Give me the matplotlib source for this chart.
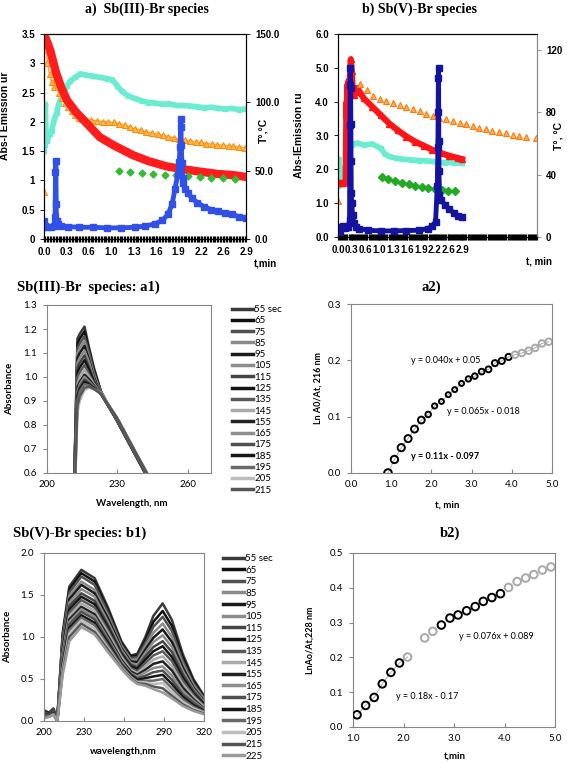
import numpy as np
import matplotlib
matplotlib.use("Agg")
import matplotlib.pyplot as plt
from matplotlib.lines import Line2D
from matplotlib.ticker import FuncFormatter

W, H = 567, 764

# ---------------- panel a) Sb(III)-Br species ----------------
a_ticklabels = ['0.0', '0.3', '0.6', '1.0', '1.3', '1.6', '1.9', '2.2', '2.6', '2.9']

a_red_t = [0.0, 0.05, 0.09, 0.17, 0.25, 0.33, 0.45, 0.57, 0.8, 1.0, 1.28, 1.5, 1.76, 2.0, 2.24, 2.5, 2.72, 2.9]
a_red = [3.5, 3.35, 3.22, 2.85, 2.58, 2.37, 2.18, 2.03, 1.74, 1.6, 1.43, 1.33, 1.24, 1.19, 1.15, 1.11, 1.09, 1.06]

a_orange_t = [0.0, 0.01, 0.03, 0.05, 0.08, 0.11, 0.14, 0.17, 0.19, 0.22, 0.26, 0.30, 0.35, 0.40, 0.45,
              0.50, 0.55, 0.60, 0.68, 0.76, 0.84, 0.92, 1.0,
              1.08, 1.16, 1.24, 1.31, 1.39, 1.47, 1.55, 1.63, 1.71, 1.78, 1.86, 1.94, 2.02, 2.10,
              2.18, 2.25, 2.33, 2.41, 2.49, 2.57, 2.65, 2.72, 2.80, 2.88]
a_orange = [0.8, 3.5, 3.25, 3.0, 2.82, 2.68, 2.6, 2.92, 2.6, 2.5, 2.4, 2.33, 2.25, 2.18, 2.12,
            2.07, 2.05, 2.04, 2.03, 2.02, 2.0, 2.0, 1.99,
            1.97, 1.94, 1.91, 1.88, 1.86, 1.83, 1.81, 1.79, 1.77, 1.75, 1.73, 1.71, 1.69, 1.68,
            1.66, 1.65, 1.63, 1.62, 1.61, 1.60, 1.59, 1.58, 1.57, 1.56]

a_cyan_t = [0.0, 0.01, 0.02, 0.03, 0.05, 0.08, 0.11, 0.15, 0.18, 0.21, 0.25, 0.29, 0.33, 0.38, 0.45,
            0.52, 0.6, 0.7, 0.8, 0.9, 0.98, 1.05, 1.12, 1.2, 1.3, 1.4, 1.5, 1.6, 1.7, 1.8, 1.9,
            2.0, 2.1, 2.2, 2.3, 2.4, 2.5, 2.6, 2.7, 2.8, 2.9]
a_cyan = [1.5, 1.6, 2.3, 1.75, 1.68, 1.8, 1.85, 2.05, 2.15, 2.3, 2.42, 2.5, 2.62, 2.7, 2.76,
          2.82, 2.8, 2.78, 2.76, 2.74, 2.72, 2.62, 2.52, 2.45, 2.4, 2.36, 2.33, 2.32, 2.3, 2.31, 2.28,
          2.28, 2.27, 2.26, 2.24, 2.25, 2.23, 2.22, 2.23, 2.21, 2.22]

a_blue_t = [0.0, 0.02, 0.05, 0.1, 0.14, 0.16, 0.165, 0.17, 0.175, 0.18, 0.2, 0.25, 0.35, 0.5, 0.7,
            0.9, 1.1, 1.3, 1.45, 1.6, 1.7, 1.78, 1.84, 1.88, 1.92, 1.94, 1.955, 1.96, 1.965, 1.97,
            1.98, 1.99, 2.0, 2.03, 2.07, 2.12, 2.2, 2.3, 2.4, 2.5, 2.6, 2.7, 2.8, 2.9]
a_blue = [0.3, 0.22, 0.2, 0.2, 0.22, 0.37, 1.15, 1.33, 0.6, 0.3, 0.25, 0.22, 0.21, 0.2, 0.2,
          0.19, 0.19, 0.2, 0.22, 0.26, 0.32, 0.42, 0.6, 0.85, 1.1, 1.32, 1.57, 1.91, 2.05, 1.6,
          1.3, 1.05, 0.95, 0.85, 0.78, 0.7, 0.62, 0.55, 0.5, 0.47, 0.44, 0.42, 0.38, 0.36]

a_green_t = [1.07, 1.24, 1.40, 1.57, 1.74, 1.90, 2.07, 2.24, 2.40, 2.57, 2.74]
a_green = [1.16, 1.15, 1.13, 1.11, 1.10, 1.09, 1.08, 1.06, 1.05, 1.04, 1.03]

# ---------------- panel b) Sb(V)-Br species ----------------
b_blue_t = [0.0, 0.04, 0.08, 0.12, 0.16, 0.2, 0.24, 0.27, 0.28, 0.285, 0.29, 0.295, 0.30, 0.305,
            0.31, 0.32, 0.34, 0.37, 0.42, 0.5, 0.7, 1.0, 1.3, 1.6, 1.9, 2.1, 2.2, 2.28, 2.32,
            2.335, 2.34, 2.345, 2.35, 2.355, 2.36, 2.37, 2.4, 2.5, 2.6, 2.7, 2.8, 2.9]
b_blue = [0.18, 0.15, 0.3, 0.32, 0.28, 0.3, 0.3, 0.5, 3.3, 4.5, 5.0, 4.4, 3.35, 2.25,
          1.3, 1.0, 0.65, 0.4, 0.3, 0.25, 0.2, 0.18, 0.18, 0.19, 0.2, 0.25, 0.32, 0.45, 1.5,
          2.65, 3.7, 4.7, 5.0, 2.85, 1.95, 1.25, 1.1, 0.95, 0.82, 0.72, 0.62, 0.58]

b_cyan_t = [0.0, 0.02, 0.04, 0.07, 0.1, 0.14, 0.18, 0.22, 0.26, 0.3, 0.35, 0.45, 0.6, 0.8, 1.0,
            1.1, 1.2, 1.35, 1.5, 1.7, 1.9, 2.1, 2.3, 2.5, 2.7, 2.9]
b_cyan = [1.5, 2.3, 1.7, 1.85, 2.0, 2.05, 2.1, 2.3, 2.6, 2.7, 2.75, 2.78, 2.72, 2.75, 2.62,
          2.45, 2.38, 2.33, 2.3, 2.28, 2.26, 2.25, 2.22, 2.2, 2.2, 2.18]

b_red_t = [0.0, 0.06, 0.12, 0.18, 0.19, 0.2, 0.21, 0.22, 0.23, 0.24, 0.25, 0.26, 0.28, 0.3, 0.32,
           0.34, 0.37, 0.4, 0.45, 0.5, 0.6, 0.8, 1.0, 1.2, 1.4, 1.6, 1.8, 2.0, 2.2, 2.4, 2.6,
           2.8, 2.9]
b_red = [1.6, 1.6, 1.6, 1.62, 3.0, 4.0, 3.5, 4.5, 3.7, 4.6, 3.6, 4.1, 4.8, 5.25, 4.9,
         4.4, 4.2, 4.4, 4.4, 4.3, 4.1, 3.85, 3.6, 3.35, 3.15, 2.97, 2.82, 2.7, 2.58, 2.48, 2.4,
         2.33, 2.3]

b_orange_t = [0.0, 0.51, 0.67, 0.82, 0.98, 1.13, 1.29, 1.44, 1.60, 1.75, 1.91, 2.06, 2.22, 2.37,
              2.53, 2.68, 2.84, 2.99, 3.15, 3.30, 3.46, 3.61, 3.77, 3.92, 4.08, 4.23, 4.39, 4.63]
b_orange = [1.05, 4.52, 4.34, 4.17, 4.09, 4.02, 3.96, 3.91, 3.85, 3.78, 3.72, 3.65, 3.58, 3.53,
            3.48, 3.43, 3.38, 3.33, 3.28, 3.23, 3.18, 3.13, 3.09, 3.06, 3.02, 2.98, 2.96, 2.94]

b_green_t = [1.02, 1.18, 1.33, 1.49, 1.65, 1.80, 1.96, 2.11, 2.27, 2.43, 2.58, 2.74]
b_green = [1.78, 1.71, 1.66, 1.60, 1.56, 1.52, 1.48, 1.45, 1.42, 1.39, 1.36, 1.35]

# ---------------- a1) spectra ----------------
a1_labels = ['55 sec', '65', '75', '85', '95', '105', '115', '125', '135', '145', '155',
             '165', '175', '185', '195', '205', '215']
a1_wl = [211, 213, 214, 216, 218, 220, 223, 230, 238, 246]
a1_abs = [
    [0.30, 1.16, 1.18, 1.21, 1.12, 1.04, 0.94, 0.815, 0.670, 0.525],
    [0.30, 1.14, 1.16, 1.19, 1.11, 1.03, 0.94, 0.815, 0.670, 0.525],
    [0.30, 1.12, 1.14, 1.17, 1.10, 1.02, 0.935, 0.815, 0.670, 0.525],
    [0.30, 1.10, 1.12, 1.15, 1.08, 1.01, 0.935, 0.817, 0.672, 0.527],
    [0.30, 1.08, 1.10, 1.13, 1.07, 1.00, 0.93, 0.817, 0.672, 0.527],
    [0.30, 1.06, 1.08, 1.11, 1.06, 0.99, 0.93, 0.818, 0.673, 0.528],
    [0.30, 1.04, 1.06, 1.09, 1.04, 0.985, 0.93, 0.818, 0.673, 0.528],
    [0.30, 1.02, 1.04, 1.07, 1.03, 0.98, 0.93, 0.82, 0.675, 0.53],
    [0.30, 1.00, 1.02, 1.05, 1.01, 0.975, 0.93, 0.82, 0.675, 0.53],
    [0.28, 0.97, 1.00, 1.03, 1.00, 0.97, 0.93, 0.822, 0.677, 0.532],
    [0.28, 0.96, 0.98, 1.01, 0.99, 0.965, 0.93, 0.822, 0.677, 0.532],
    [0.28, 0.94, 0.97, 1.00, 0.98, 0.96, 0.93, 0.825, 0.68, 0.535],
    [0.28, 0.93, 0.96, 0.99, 0.975, 0.955, 0.93, 0.825, 0.68, 0.535],
    [0.28, 0.92, 0.95, 0.98, 0.97, 0.955, 0.93, 0.827, 0.682, 0.537],
    [0.26, 0.90, 0.94, 0.97, 0.965, 0.95, 0.93, 0.827, 0.682, 0.537],
    [0.24, 0.85, 0.90, 0.945, 0.955, 0.95, 0.935, 0.83, 0.685, 0.545],
    [0.26, 0.88, 0.92, 0.955, 0.96, 0.95, 0.932, 0.828, 0.683, 0.54],
]
a1_colors = ['#3a3a3a', '#111111', '#505050', '#8a8a8a', '#1a1a1a', '#8c8c8c', '#454545',
             '#151515', '#5a5a5a', '#aaaaaa', '#222222', '#8e8e8e', '#505050', '#161616',
             '#6a6a6a', '#bdbdbd', '#555555']

# ---------------- b1) spectra ----------------
b1_labels = a1_labels + ['225']
b1_wl = [200, 204, 207, 210, 214, 219, 228, 238, 248, 258, 265, 270, 276, 282, 289, 296, 304, 312, 320]
b1_abs = [
    [0.12, 0.10, 0.15, 0.03, 1.05, 1.60, 1.80, 1.70, 1.35, 0.95, 0.78, 0.80, 1.00, 1.25, 1.40, 1.20, 0.80, 0.50, 0.30],
    [0.11, 0.10, 0.14, 0.03, 1.02, 1.57, 1.76, 1.66, 1.32, 0.93, 0.77, 0.78, 0.96, 1.18, 1.31, 1.13, 0.76, 0.48, 0.28],
    [0.13, 0.09, 0.14, 0.03, 0.99, 1.53, 1.72, 1.62, 1.29, 0.91, 0.75, 0.76, 0.93, 1.12, 1.24, 1.07, 0.72, 0.45, 0.27],
    [0.10, 0.09, 0.13, 0.02, 0.96, 1.49, 1.66, 1.56, 1.25, 0.89, 0.73, 0.73, 0.89, 1.05, 1.16, 1.00, 0.68, 0.43, 0.26],
    [0.12, 0.09, 0.13, 0.02, 0.94, 1.45, 1.62, 1.52, 1.22, 0.87, 0.71, 0.70, 0.85, 0.99, 1.09, 0.94, 0.64, 0.40, 0.24],
    [0.09, 0.08, 0.12, 0.02, 0.91, 1.41, 1.57, 1.48, 1.18, 0.85, 0.69, 0.67, 0.81, 0.94, 1.02, 0.88, 0.60, 0.38, 0.23],
    [0.11, 0.08, 0.12, 0.02, 0.88, 1.37, 1.52, 1.43, 1.14, 0.82, 0.67, 0.64, 0.77, 0.88, 0.95, 0.82, 0.56, 0.36, 0.21],
    [0.08, 0.08, 0.11, 0.02, 0.85, 1.33, 1.48, 1.39, 1.11, 0.80, 0.65, 0.62, 0.73, 0.83, 0.89, 0.76, 0.52, 0.33, 0.20],
    [0.10, 0.07, 0.11, 0.01, 0.82, 1.29, 1.44, 1.35, 1.08, 0.78, 0.63, 0.59, 0.69, 0.78, 0.83, 0.71, 0.48, 0.31, 0.18],
    [0.07, 0.07, 0.10, 0.01, 0.79, 1.25, 1.40, 1.31, 1.05, 0.76, 0.61, 0.57, 0.65, 0.73, 0.77, 0.65, 0.44, 0.29, 0.17],
    [0.09, 0.07, 0.10, 0.01, 0.76, 1.21, 1.36, 1.27, 1.01, 0.73, 0.59, 0.55, 0.61, 0.68, 0.71, 0.60, 0.40, 0.26, 0.15],
    [0.06, 0.06, 0.09, 0.01, 0.73, 1.18, 1.33, 1.24, 0.98, 0.71, 0.57, 0.53, 0.58, 0.63, 0.65, 0.54, 0.36, 0.24, 0.14],
    [0.08, 0.06, 0.09, 0.01, 0.70, 1.15, 1.30, 1.21, 0.96, 0.69, 0.56, 0.51, 0.54, 0.58, 0.60, 0.49, 0.32, 0.22, 0.13],
    [0.05, 0.06, 0.09, 0.00, 0.67, 1.11, 1.26, 1.17, 0.93, 0.67, 0.55, 0.49, 0.51, 0.53, 0.55, 0.44, 0.29, 0.19, 0.12],
    [0.06, 0.06, 0.08, 0.00, 0.64, 1.08, 1.23, 1.14, 0.90, 0.66, 0.53, 0.47, 0.48, 0.48, 0.50, 0.39, 0.26, 0.17, 0.11],
    [0.04, 0.05, 0.08, 0.00, 0.61, 1.04, 1.20, 1.10, 0.87, 0.64, 0.52, 0.46, 0.46, 0.44, 0.45, 0.34, 0.23, 0.15, 0.10],
    [0.05, 0.05, 0.08, 0.00, 0.58, 1.00, 1.16, 1.06, 0.85, 0.63, 0.51, 0.45, 0.44, 0.41, 0.39, 0.30, 0.20, 0.13, 0.09],
    [0.03, 0.05, 0.08, 0.00, 0.55, 0.95, 1.12, 1.03, 0.82, 0.62, 0.50, 0.44, 0.42, 0.38, 0.34, 0.27, 0.18, 0.12, 0.08],
]
b1_colors = a1_colors + ['#9a9a9a']

# ---------------- a2) / b2) kinetics ----------------
a2_t = [0.92, 1.08, 1.25, 1.42, 1.58, 1.75, 1.92, 2.08, 2.25, 2.42, 2.58, 2.75, 2.92, 3.08, 3.25,
        3.42, 3.58, 3.75, 3.92, 4.08, 4.25, 4.42, 4.58, 4.75, 4.92]
a2_ln = [0.000, 0.024, 0.045, 0.061, 0.078, 0.094, 0.104, 0.119, 0.127, 0.139, 0.148, 0.159, 0.167,
         0.172, 0.180, 0.184, 0.195, 0.199, 0.206, 0.210, 0.213, 0.217, 0.222, 0.230, 0.233]
a2_used = [1] * 19 + [0] * 6
a2_size = [30, 28, 27, 26, 25, 24, 16, 14, 13, 13, 13, 13, 15, 16, 17, 18, 19, 20, 20, 22, 22, 22, 22, 22, 22]

b2_t = [1.08, 1.25, 1.42, 1.58, 1.75, 1.92, 2.08, 2.42, 2.58, 2.75, 2.92, 3.08, 3.25, 3.42, 3.58,
        3.75, 3.92, 4.08, 4.25, 4.42, 4.58, 4.75, 4.92]
b2_ln = [0.035, 0.062, 0.085, 0.124, 0.157, 0.184, 0.201, 0.256, 0.275, 0.293, 0.313, 0.322, 0.334,
         0.346, 0.361, 0.372, 0.383, 0.401, 0.418, 0.428, 0.438, 0.451, 0.460]
b2_used = [1, 1, 1, 1, 1, 1, 0, 0, 0, 1, 1, 1, 1, 1, 1, 1, 1, 0, 0, 0, 0, 0, 0]


def box(l, t, r, b):
    return [l / W, 1 - b / H, (r - l) / W, (b - t) / H]


def fx(x):
    return x / W


def fy(y):
    return 1 - y / H


ARIAL = 'Liberation Sans'
SERIF = 'Liberation Serif'
CALI = 'Lato'

fig = plt.figure(figsize=(W / 100, H / 100), dpi=100)
fig.patch.set_facecolor('white')

# ===== panel a =====
ax = fig.add_axes(box(44, 34, 246, 239))
ax.plot(a_cyan_t, a_cyan, color='#6aecd0', lw=4, marker='s', ms=3.5, zorder=2)
ax.plot(a_orange_t, a_orange, color='#ff9d2a', lw=1.0, marker='^', ms=4.5,
        mfc='#ffc04a', mec='#ff8c10', mew=0.8, zorder=3)
ax.plot(a_red_t, a_red, color='#ff1c1c', lw=6, solid_capstyle='round', zorder=4)
ax.plot(a_green_t, a_green, ls='none', marker='D', ms=3.5, color='#33bb33', zorder=4)
ax.plot(a_blue_t, a_blue, color='#3050e8', lw=3.5, marker='s', ms=4, zorder=5)
ax.set_xlim(0, 2.9)
ax.set_ylim(0, 3.5)
ax.set_xticks(np.linspace(0, 2.9, 10))
ax.set_xticklabels(a_ticklabels)
ax.set_xticks(np.linspace(0, 2.9, 140), minor=True)
ax.set_yticks(np.arange(0, 3.51, 0.5))
ax.yaxis.set_major_formatter(FuncFormatter(lambda v, p: '%g' % v))
ax.tick_params(axis='x', which='both', direction='inout', length=4, width=0.9, pad=4)
ax.tick_params(axis='y', direction='out', length=3, width=0.6)
for lab in ax.get_xticklabels() + ax.get_yticklabels():
    lab.set_fontfamily(ARIAL)
    lab.set_fontweight('bold')
    lab.set_fontsize(7)
ax.set_ylabel('Abs-I Emission ur', family=ARIAL, weight='bold', fontsize=7.5)
ax.yaxis.set_label_coords(-0.17, 0.6)
axr = ax.twinx()
axr.set_ylim(0, 150)
axr.set_yticks([0, 50, 100, 150])
axr.set_yticklabels(['0.0', '50.0', '100.0', '150.0'], family=ARIAL, weight='bold', fontsize=7)
axr.tick_params(axis='y', direction='out', length=3, width=0.6)
axr.set_ylabel('T°,°C', family=ARIAL, weight='bold', fontsize=7.5)
axr.yaxis.set_label_coords(1.06, 0.53)
fig.text(fx(147), fy(9), 'a)  Sb(III)-Br species', family=SERIF, weight='bold', fontsize=10,
         ha='center', va='center')
fig.text(fx(265), fy(263), 't,min', family=ARIAL, weight='bold', fontsize=7, ha='center', va='center')

# ===== panel b =====
bx = fig.add_axes(box(338, 34, 537, 237))
bx.plot(b_cyan_t, b_cyan, color='#6aecd0', lw=4, marker='s', ms=3, zorder=2)
bx.plot(b_red_t, b_red, color='#ff1515', lw=4.5, marker='^', ms=4.5, zorder=3)
bx.plot(b_orange_t, b_orange, ls='none', marker='^', ms=4.5, mfc='#ffb050', mec='#ff7a10',
        mew=0.8, zorder=4)
bx.plot(b_green_t, b_green, ls='none', marker='D', ms=4.5, color='#22aa22', zorder=4)
bx.plot(b_blue_t, b_blue, color='#1414a0', lw=3.5, marker='s', ms=4, zorder=5)
bx.set_xlim(0, 4.65)
bx.set_ylim(0, 6)
bx.set_xticks(np.linspace(0, 2.9, 10))
bx.set_xticklabels(a_ticklabels)
bx.set_xticks(np.linspace(0, 4.65, 190), minor=True)
bx.set_yticks(np.arange(0, 6.01, 1.0))
bx.yaxis.set_major_formatter(FuncFormatter(lambda v, p: '%.1f' % v))
bx.tick_params(axis='x', which='both', direction='inout', length=4, width=0.9, pad=4)
bx.tick_params(axis='y', direction='out', length=3, width=0.6)
for lab in bx.get_xticklabels() + bx.get_yticklabels():
    lab.set_fontfamily(ARIAL)
    lab.set_fontweight('bold')
    lab.set_fontsize(7)
bx.set_ylabel('Abs-IEmission ru', family=ARIAL, weight='bold', fontsize=7.5)
bx.yaxis.set_label_coords(-0.17, 0.5)
bx.spines['right'].set_color('#888888')
bxr = bx.twinx()
bxr.set_ylim(0, 130)
bxr.set_yticks([0, 40, 80, 120])
bxr.set_yticklabels(['0', '40', '80', '120'], family=ARIAL, weight='bold', fontsize=7)
bxr.spines['right'].set_color('#888888')
bxr.tick_params(axis='y', direction='out', length=3, width=0.6, color='#888888')
bxr.set_ylabel('T°, °C', family=ARIAL, weight='bold', fontsize=7.5)
bxr.yaxis.set_label_coords(1.085, 0.5)
fig.text(fx(420), fy(9), 'b) Sb(V)-Br species', family=SERIF, weight='bold', fontsize=10,
         ha='center', va='center')
fig.text(fx(539), fy(261), 't, min', family=ARIAL, weight='bold', fontsize=7, ha='center', va='center')

GRAY = '#868686'


def excel_style(a):
    for sp in a.spines.values():
        sp.set_color(GRAY)
        sp.set_linewidth(0.8)
    a.tick_params(axis='x', direction='in', length=3, color=GRAY, labelsize=7, pad=5)
    a.tick_params(axis='y', direction='out', length=3, color=GRAY, labelsize=7, pad=4)
    for lab in a.get_xticklabels() + a.get_yticklabels():
        lab.set_fontfamily(CALI)


# ===== a1 =====
c1 = fig.add_axes(box(47, 305, 211, 473))
for row, col in zip(a1_abs, a1_colors):
    c1.plot(a1_wl, row, color=col, lw=1.8)
c1.set_xlim(200, 270)
c1.set_ylim(0.6, 1.3)
c1.set_xticks([200, 230, 260])
c1.set_yticks(np.arange(0.6, 1.31, 0.1))
c1.yaxis.set_major_formatter(FuncFormatter(lambda v, p: '%.1f' % v))
excel_style(c1)
c1.set_ylabel('Absorbance', family=CALI, weight='bold', fontsize=7)
c1.yaxis.set_label_coords(-0.2, 0.5)
fig.text(fx(17), fy(287), 'Sb(III)-Br  species: a1)', family=SERIF, weight='bold', fontsize=10.5,
         ha='left', va='center')
fig.text(fx(132), fy(503), 'Wavelength, nm', family=CALI, weight='bold', fontsize=7,
         ha='center', va='center')
hnd = [Line2D([], [], color=c, lw=2.5) for c in a1_colors]
c1.legend(hnd, a1_labels, loc='upper left', bbox_to_anchor=(fx(232), fy(305)),
          bbox_transform=fig.transFigure, frameon=False, prop={'family': CALI, 'size': 7},
          handlelength=2.2, handletextpad=0.1, labelspacing=0.235, borderpad=0, borderaxespad=0)

# ===== b1 =====
d1 = fig.add_axes(box(44, 553, 204, 721))
for row, col in zip(b1_abs, b1_colors):
    d1.plot(b1_wl, row, color=col, lw=1.8)
d1.set_xlim(200, 320)
d1.set_ylim(0, 2.0)
d1.set_xticks([200, 230, 260, 290, 320])
d1.set_yticks(np.arange(0, 2.01, 0.5))
d1.yaxis.set_major_formatter(FuncFormatter(lambda v, p: '%.1f' % v))
excel_style(d1)
d1.set_ylabel('Absorbance', family=CALI, weight='bold', fontsize=7)
d1.yaxis.set_label_coords(-0.2, 0.5)
fig.text(fx(13), fy(533), 'Sb(V)-Br species: b1)', family=SERIF, weight='bold', fontsize=10.5,
         ha='left', va='center')
fig.text(fx(123), fy(751), 'wavelength,nm', family=CALI, weight='bold', fontsize=7,
         ha='center', va='center')
hnd = [Line2D([], [], color=c, lw=2.5) for c in b1_colors]
d1.legend(hnd, b1_labels, loc='upper left', bbox_to_anchor=(fx(223), fy(554)),
          bbox_transform=fig.transFigure, frameon=False, prop={'family': CALI, 'size': 7},
          handlelength=2.2, handletextpad=0.1, labelspacing=0.27, borderpad=0, borderaxespad=0)

# ===== a2 =====
c2 = fig.add_axes(box(351, 304, 552, 473))
c2.plot(a2_t, a2_ln, color='#b0b0b0', lw=0.7, zorder=1)
c2.scatter(a2_t, a2_ln, s=a2_size, facecolors='none',
           edgecolors=['black' if u else '#a8a8a8' for u in a2_used], linewidths=1.4, zorder=3)
c2.set_xlim(0, 5)
c2.set_ylim(0, 0.3)
c2.set_xticks(np.arange(0, 5.01, 1.0))
c2.set_yticks(np.arange(0, 0.31, 0.1))
c2.xaxis.set_major_formatter(FuncFormatter(lambda v, p: '%.1f' % v))
c2.yaxis.set_major_formatter(FuncFormatter(lambda v, p: '%.1f' % v))
excel_style(c2)
c2.set_ylabel('Ln A0/At, 216 nm', family=CALI, weight='bold', fontsize=6.5)
c2.yaxis.set_label_coords(-0.14, 0.5)
c2.text(1.5, 0.199, 'y = 0.040x + 0.05', family=CALI, fontsize=6.5, va='center')
c2.text(2.4, 0.11, 'y = 0.065x - 0.018', family=CALI, fontsize=6.5, va='center')
c2.text(1.5, 0.029, 'y = 0.11x - 0.097', family=CALI, fontsize=6.5, weight='bold', va='center')
fig.text(fx(431), fy(287), 'a2)', family=SERIF, weight='bold', fontsize=10.5, ha='center', va='center')
fig.text(fx(447), fy(505), 't, min', family=CALI, weight='bold', fontsize=7, ha='center', va='center')

# ===== b2 =====
d2 = fig.add_axes(box(353, 553, 555, 727))
d2.plot(b2_t[:7], b2_ln[:7], color='#b0b0b0', lw=0.7, zorder=1)
d2.scatter(b2_t, b2_ln, s=30, facecolors='none',
           edgecolors=['black' if u else '#a8a8a8' for u in b2_used], linewidths=1.4, zorder=3)
d2.set_xlim(1, 5)
d2.set_ylim(0, 0.5)
d2.set_xticks(np.arange(1, 5.01, 1.0))
d2.set_yticks(np.arange(0, 0.51, 0.1))
d2.xaxis.set_major_formatter(FuncFormatter(lambda v, p: '%.1f' % v))
d2.yaxis.set_major_formatter(FuncFormatter(lambda v, p: '%.1f' % v))
excel_style(d2)
d2.set_ylabel('LnAo/At,228 nm', family=CALI, weight='bold', fontsize=6.5)
d2.yaxis.set_label_coords(-0.19, 0.5)
d2.text(3.1, 0.26, 'y = 0.076x + 0.089', family=CALI, fontsize=6.5, va='center')
d2.text(1.85, 0.089, 'y = 0.18x - 0.17', family=CALI, fontsize=6.5, va='center')
fig.text(fx(450), fy(533), 'b2)', family=SERIF, weight='bold', fontsize=10.5, ha='center', va='center')
fig.text(fx(455), fy(756), 't,min', family=CALI, weight='bold', fontsize=7, ha='center', va='center')

fig.savefig('out.png', dpi=100, facecolor='white')
